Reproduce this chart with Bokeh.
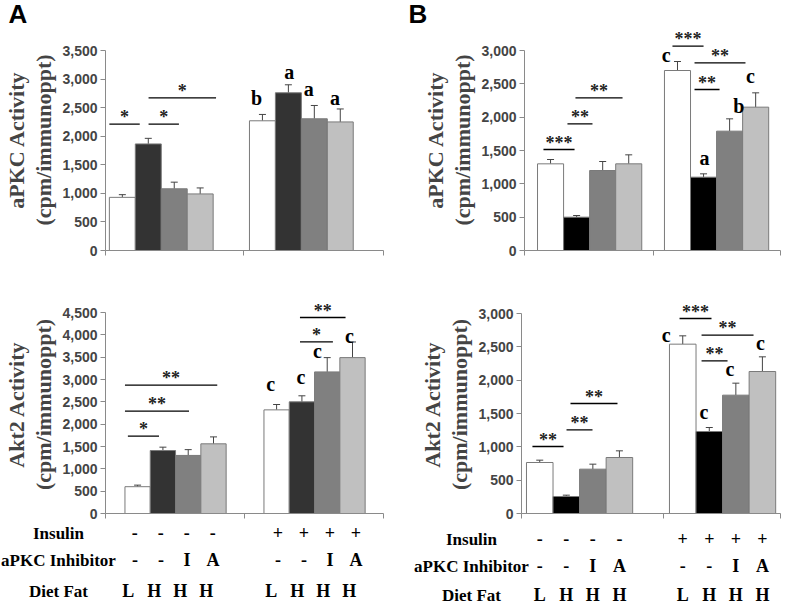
from bokeh.plotting import figure
from bokeh.layouts import row, column
from bokeh.models import (Range1d, FixedTicker, NumeralTickFormatter, Whisker, TeeHead,
                          ColumnDataSource, CustomJSTickFormatter)
from bokeh.core.properties import value
from bokeh.embed import file_html
from bokeh.resources import INLINE

# ---------------- data ----------------
insulin = ["-", "-", "-", "-", "+", "+", "+", "+"]
inhibitor = ["-", "-", "I", "A", "-", "-", "I", "A"]
diet_fat = ["L", "H", "H", "H", "L", "H", "H", "H"]
row_names = ["Insulin", "aPKC Inhibitor", "Diet Fat"]

a_apkc = [930, 1865, 1080, 990, 2270, 2760, 2305, 2250]
a_apkc_err = [47, 98, 116, 105, 111, 140, 233, 227]
a_akt2 = [600, 1410, 1300, 1560, 2320, 2500, 3170, 3490]
a_akt2_err = [35, 75, 130, 155, 120, 135, 320, 350]
b_apkc = [1300, 500, 1200, 1300, 2700, 1100, 1790, 2150]
b_apkc_err = [65, 25, 135, 135, 135, 50, 185, 215]
b_akt2 = [765, 255, 665, 840, 2540, 1230, 1775, 2130]
b_akt2_err = [35, 20, 75, 100, 125, 60, 180, 220]

# significance brackets: (x start, x end [group units], y [data], mark)
a_apkc_sig = [(0.028, 0.248, 2210, "*"), (0.312, 0.532, 2210, "*"), (0.312, 0.801, 2672, "*")]
a_akt2_sig = [(0.161, 0.385, 1731, "*"), (0.140, 0.601, 2291, "**"), (0.140, 0.804, 2873, "**"),
              (1.399, 1.636, 3842, "*"), (1.399, 1.727, 4388, "**")]
b_apkc_sig = [(0.147, 0.388, 1515, "***"), (0.333, 0.527, 1900, "**"), (0.395, 0.760, 2290, "**"),
              (1.147, 1.388, 3065, "***"), (1.318, 1.713, 2815, "**"), (1.318, 1.512, 2415, "**")]
b_akt2_sig = [(0.077, 0.296, 1005, "**"), (0.317, 0.500, 1255, "**"), (0.345, 0.676, 1650, "**"),
              (1.113, 1.338, 2925, "***"), (1.268, 1.634, 2675, "**"), (1.268, 1.451, 2290, "**")]

# letter marks: (x [group units], y baseline [data], letter)
a_apkc_letters = [(1.095, 2532, "b"), (1.331, 2987, "a"), (1.473, 2695, "a"), (1.662, 2532, "a")]
a_akt2_letters = [(1.189, 2725, "c"), (1.406, 2875, "c"), (1.524, 3470, "c"), (1.755, 3810, "c")]
b_apkc_letters = [(1.098, 2825, "c"), (1.395, 1275, "a"), (1.661, 2050, "b"), (1.752, 2510, "c")]
b_akt2_letters = [(1.019, 2565, "c"), (1.284, 1416, "c"), (1.467, 2050, "c"), (1.683, 2440, "c")]

colors_a = ["#ffffff", "#333333", "#808080", "#c0c0c0"]
colors_b = ["#ffffff", "#000000", "#808080", "#c0c0c0"]

# ---------------- layout (page pixels) ----------------
SPLIT = 406
W_L, W_R = SPLIT, 807 - SPLIT
H_TAG, H_TOP, H_BOT, H_TAB = 29, 257, 236, 84
Y_TOP, Y_BOT, Y_TAB = H_TAG, H_TAG + H_TOP, H_TAG + H_TOP + H_BOT

LAY = {
    "tl": dict(origin=(0, Y_TOP), size=(W_L, H_TOP), frame=(99, 383, 29, 250), axis_top=50,
               unit=141, offsets=(0.028, 0.043), bw=0.188),
    "tr": dict(origin=(SPLIT, Y_TOP), size=(W_R, H_TOP), frame=(524, 780, 29, 250), axis_top=50,
               unit=129, offsets=(0.101, 0.085), bw=0.202),
    "bl": dict(origin=(0, Y_BOT), size=(W_L, H_BOT), frame=(97, 383, 295, 513), axis_top=312,
               unit=143, offsets=(0.14, 0.14), bw=0.182),
    "br": dict(origin=(SPLIT, Y_BOT), size=(W_R, H_BOT), frame=(521, 780, 295, 513), axis_top=313,
               unit=142, offsets=(0.035, 0.042), bw=0.187),
}

SERIF = "Liberation Serif"
SANS = "Liberation Sans"
AXIS_COL = "#8a8a8a"
BASE_SHIFT = -0.38   # em; lifts alphabetic-baseline texts onto their baseline


def bar_centers(L):
    xs = []
    for g in range(2):
        for i in range(4):
            xs.append(g + L["offsets"][g] + (i + 0.5) * L["bw"])
    return xs


def panel(key, means, errs, colors, axis_max, ylabel, sig, letters):
    L = LAY[key]
    left, right, top, bottom = L["frame"]
    ox, oy = L["origin"]
    w, h = L["size"]
    unit = L["unit"]
    ypp = axis_max / (bottom - L["axis_top"])
    x_end = (right - left) / unit
    y_end = (bottom - top) * ypp

    p = figure(width=w, height=h, x_range=Range1d(0, x_end), y_range=Range1d(0, y_end),
               output_backend="svg", toolbar_location=None, title=None,
               min_border_left=left - ox, min_border_right=ox + w - right,
               min_border_top=top - oy, min_border_bottom=oy + h - bottom)
    p.outline_line_color = None
    p.grid.visible = False
    p.background_fill_color = "white"
    p.border_fill_color = "white"

    ya = p.yaxis[0]
    ya.ticker = FixedTicker(ticks=list(range(0, axis_max + 1, 500)))
    ya.formatter = NumeralTickFormatter(format="0,0")
    ya.bounds = (0, axis_max)
    ya.axis_label = ylabel
    ya.axis_label_text_font = SERIF
    ya.axis_label_text_font_style = "bold"
    ya.axis_label_text_font_size = "22px"
    ya.axis_label_text_line_height = 1.1
    ya.axis_label_standoff = 3
    ya.major_label_text_font = SANS
    ya.major_label_text_font_style = "bold"
    ya.major_label_text_font_size = "14px"
    ya.major_label_standoff = 3
    ya.major_tick_in = 0
    ya.major_tick_out = 5
    ya.minor_tick_line_color = None
    ya.axis_line_color = AXIS_COL
    ya.major_tick_line_color = AXIS_COL

    xa = p.xaxis[0]
    xa.ticker = FixedTicker(ticks=[0, 1, x_end])
    xa.formatter = CustomJSTickFormatter(code="return ''")
    xa.major_label_standoff = 0
    xa.major_tick_in = 0
    xa.major_tick_out = 5
    xa.minor_tick_line_color = None
    xa.axis_line_color = AXIS_COL
    xa.major_tick_line_color = AXIS_COL

    xs = bar_centers(L)
    src = ColumnDataSource(dict(x=xs, top=means, upper=[m + e for m, e in zip(means, errs)],
                                color=colors * 2))
    p.vbar(x="x", top="top", width=L["bw"], fill_color="color", line_color="#7a7a7a",
           line_width=1, source=src)
    p.add_layout(Whisker(source=src, base="x", upper="upper", lower="top", dimension="height",
                         line_color="#444444", line_width=1, lower_head=None,
                         upper_head=TeeHead(size=7, line_color="#444444", line_width=1)))

    p.segment(x0=[s[0] for s in sig], x1=[s[1] for s in sig], y0=[s[2] for s in sig],
              y1=[s[2] for s in sig], line_color="black", line_width=1.3)
    p.text(x=[(s[0] + s[1]) / 2 for s in sig], y=[s[2] for s in sig], text=[s[3] for s in sig],
           text_font=value(SERIF), text_font_style="bold", text_font_size="18px",
           text_align="center", text_baseline="alphabetic", text_color="#222222",
           y_offset=BASE_SHIFT * 18)

    p.text(x=[t[0] for t in letters], y=[t[1] for t in letters], text=[t[2] for t in letters],
           text_font=value(SERIF), text_font_style="bold", text_font_size="20px",
           text_align="center", text_baseline="alphabetic", text_color="black",
           y_offset=BASE_SHIFT * 20)
    return p


def tag_strip(width, tag, x_px):
    p = figure(width=width, height=H_TAG, x_range=Range1d(0, width), y_range=Range1d(H_TAG, 0),
               output_backend="svg", toolbar_location=None, min_border=0, title=None,
               x_axis_type=None, y_axis_type=None)
    p.outline_line_color = None
    p.grid.visible = False
    p.text(x=[x_px], y=[23.6], text=[tag], text_font=value(SANS), text_font_style="bold",
           text_font_size="26px", text_align="left", text_baseline="alphabetic",
           y_offset=BASE_SHIFT * 26)
    return p


def table_strip(key, rows_px, label_cx, shifts):
    L = LAY[key]
    left = L["frame"][0]
    ox = L["origin"][0]
    w = L["size"][0]
    unit = L["unit"]
    p = figure(width=w, height=H_TAB,
               x_range=Range1d((ox - left) / unit, (ox + w - left) / unit),
               y_range=Range1d(Y_TAB + H_TAB, Y_TAB), title=None,
               output_backend="svg", toolbar_location=None, min_border=0,
               x_axis_type=None, y_axis_type=None)
    p.outline_line_color = None
    p.grid.visible = False
    xs = bar_centers(L)
    tx, ty, tt = [], [], []
    for r, vals in enumerate([insulin, inhibitor, diet_fat]):
        for c, v in enumerate(vals):
            tx.append(xs[c] + shifts[r] / unit)
            ty.append(rows_px[r])
            tt.append(v)
    p.text(x=tx, y=ty, text=tt, text_font=value(SERIF), text_font_style="bold",
           text_font_size="18px", text_align="center", text_baseline="alphabetic",
           y_offset=BASE_SHIFT * 18)
    p.text(x=[(label_cx - left) / unit] * 3, y=rows_px, text=row_names, text_font=value(SERIF),
           text_font_style="bold", text_font_size="17px", text_align="center",
           text_baseline="alphabetic", y_offset=BASE_SHIFT * 17)
    return p


apkc_label = "aPKC Activity\n(cpm/immunoppt)"
akt2_label = "Akt2 Activity\n(cpm/immunoppt)"

p_tl = panel("tl", a_apkc, a_apkc_err, colors_a, 3500, apkc_label, a_apkc_sig, a_apkc_letters)
p_tr = panel("tr", b_apkc, b_apkc_err, colors_b, 3000, apkc_label, b_apkc_sig, b_apkc_letters)
p_bl = panel("bl", a_akt2, a_akt2_err, colors_a, 4500, akt2_label, a_akt2_sig, a_akt2_letters)
p_br = panel("br", b_akt2, b_akt2_err, colors_b, 3000, akt2_label, b_akt2_sig, b_akt2_letters)

tag_a = tag_strip(W_L, "A", 8)
tag_b = tag_strip(W_R, "B", 2)
tab_l = table_strip("bl", [539, 566, 597], 58, [4.25, 4.5, -2.4])
tab_r = table_strip("br", [545, 572, 601], 471, [0, 0, 0])

layout = column(row(tag_a, tag_b), row(p_tl, p_tr), row(p_bl, p_br), row(tab_l, tab_r))
open("out.html", "w").write(file_html(layout, INLINE))
